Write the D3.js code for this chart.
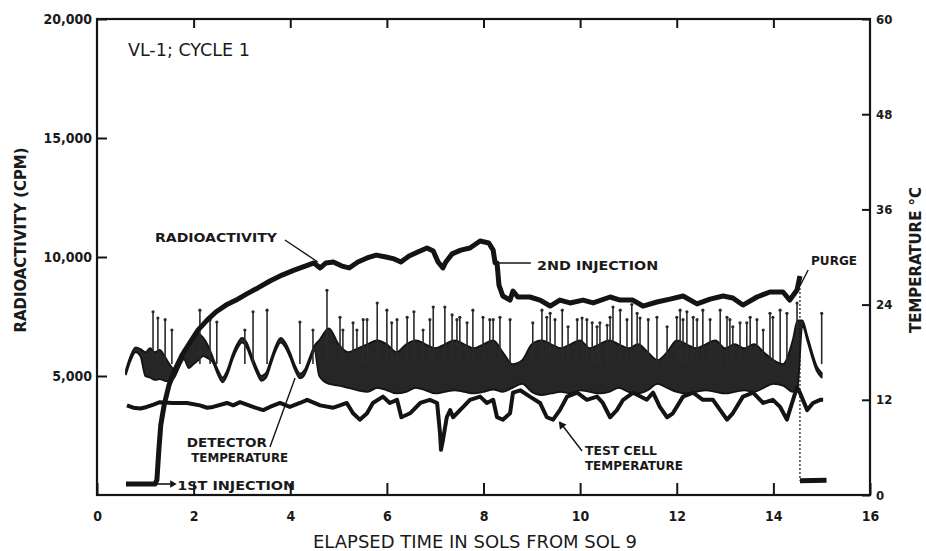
<!DOCTYPE html>
<html><head><meta charset="utf-8">
<script src="https://cdn.jsdelivr.net/npm/d3@7"></script>
<style>
body{margin:0;background:#fff}
svg{display:block}
text{font-family:"DejaVu Sans Condensed","DejaVu Sans",sans-serif;fill:#1a1a1a}
</style>
</head><body>
<svg id="c" width="926" height="551"></svg>
<script>
// ---------------- DATA ----------------
const xTicks = [0, 2, 4, 6, 8, 10, 12, 14, 16];
const leftTicks = [5000, 10000, 15000, 20000];
const rightTicks = [0, 12, 24, 36, 48, 60];

// Radioactivity (CPM) before purge
const radSols = [0.60,1.20,1.24,1.28,1.32,1.39,1.49,1.61,1.76,1.93,2.09,2.28,2.46,2.67,2.88,3.10,3.33,3.58,3.83,4.08,4.31,4.49,4.62,4.74,4.89,5.07,5.22,5.40,5.59,5.78,5.98,6.15,6.29,6.46,6.64,6.83,6.96,7.06,7.16,7.22,7.35,7.53,7.72,7.93,8.11,8.20,8.24,8.28,8.32,8.40,8.55,8.61,8.71,8.96,9.17,9.38,9.58,9.79,10.06,10.27,10.62,10.83,11.09,11.30,11.59,11.86,12.13,12.42,12.69,12.96,13.16,13.37,13.66,13.93,14.20,14.34,14.49,14.55];
const radCpm  = [460,460,630,1890,2940,3780,4620,5250,5880,6430,6930,7350,7690,7980,8190,8450,8700,8990,9240,9450,9620,9750,9540,9750,9790,9620,9540,9790,9960,10080,10000,9920,9790,10040,10210,10380,10250,9790,9540,9790,10130,10290,10380,10670,10590,10290,9750,9750,8820,8360,8190,8570,8320,8320,8190,7940,8190,8070,8190,8070,8320,8190,8190,7940,8110,8230,8360,8030,8230,8360,8280,7980,8320,8530,8530,8190,8610,9200];
// Radioactivity after purge
const radPostSols = [14.55, 15.10];
const radPostCpm  = [600, 620];

// Test cell temperature (deg C)
const cellSols = [0.62,0.75,0.90,1.03,1.17,1.30,1.57,1.86,2.13,2.28,2.40,2.69,2.82,2.96,3.23,3.44,3.58,3.79,3.99,4.20,4.35,4.62,4.89,5.03,5.17,5.30,5.44,5.59,5.71,5.92,6.06,6.21,6.30,6.48,6.69,6.89,7.04,7.10,7.12,7.16,7.24,7.31,7.37,7.58,7.72,7.93,8.07,8.20,8.28,8.40,8.55,8.61,8.76,8.96,9.17,9.31,9.44,9.58,9.73,9.94,10.14,10.35,10.47,10.62,10.76,10.89,11.10,11.38,11.51,11.65,11.80,11.92,12.13,12.34,12.54,12.75,12.90,13.04,13.16,13.37,13.58,13.79,13.99,14.14,14.28,14.34,14.49,14.55,14.70,14.82,14.97,15.03];
const cellTemp = [11.3,11.0,10.9,11.1,11.4,11.7,11.6,11.6,11.3,11.0,11.1,11.6,11.3,11.7,11.1,10.7,11.1,11.6,11.1,11.6,12.0,11.3,11.0,11.3,11.6,10.3,9.5,10.3,11.6,12.4,11.6,12.0,9.8,10.3,11.6,12.0,11.6,7.8,5.7,6.9,9.8,10.7,9.8,11.1,12.0,12.4,11.6,12.0,9.8,9.5,10.3,12.9,13.2,12.4,11.6,9.8,9.5,10.7,12.4,12.9,12.0,12.4,11.6,9.8,10.7,12.0,12.9,12.0,12.9,11.1,9.8,10.3,12.4,12.9,12.0,12.0,10.7,9.5,10.3,12.4,12.9,11.6,12.0,11.1,9.5,10.7,13.6,12.9,10.7,11.6,12.0,12.0];

// Detector temperature (deg C): band low / high
const detSols = [0.6,0.7,0.8,0.9,1.0,1.1,1.2,1.3,1.4,1.5,1.6,1.7,1.8,1.9,2.0,2.1,2.2,2.3,2.4,2.5,2.6,2.7,2.8,2.9,3.0,3.1,3.2,3.3,3.4,3.5,3.6,3.7,3.8,3.9,4.0,4.1,4.2,4.3,4.4,4.5,4.6,4.8,5.0,5.2,5.4,5.6,5.8,6.0,6.2,6.4,6.6,6.8,7.0,7.2,7.4,7.6,7.8,8.0,8.2,8.4,8.6,8.8,9.0,9.2,9.4,9.6,9.8,10.0,10.2,10.4,10.6,10.8,11.0,11.2,11.4,11.6,11.8,12.0,12.2,12.4,12.6,12.8,13.0,13.2,13.4,13.6,13.8,14.0,14.2,14.4,14.5,14.6,14.7,14.8,14.9,15.0];
const detLo = [15.2,17.0,18.0,17.5,15.0,14.8,14.5,14.6,14.4,14.3,14.8,16.1,17.1,16.0,16.5,17.0,17.5,17.2,16.7,15.2,14.2,15.2,17.0,18.4,19.2,18.6,17.0,15.5,14.4,14.8,16.5,18.2,19.2,18.6,17.3,15.7,14.7,15.2,16.7,18.2,15.0,14.0,13.8,13.5,13.2,13.0,13.5,13.2,12.8,13.0,13.5,13.2,12.8,13.0,13.2,13.0,12.8,13.0,13.3,13.0,13.5,14.0,13.0,12.6,12.8,13.0,12.8,13.2,13.0,12.8,13.0,13.5,13.0,12.8,13.2,14.0,13.5,13.0,12.8,13.0,13.2,13.0,12.8,13.0,13.2,13.0,13.5,14.0,13.8,13.0,13.5,21.4,19.5,17.4,15.6,14.8];
const detHi = [15.8,17.6,18.6,18.4,18.0,18.5,18.0,18.3,17.5,16.5,15.8,16.7,17.7,19.0,19.8,20.3,19.8,18.8,17.3,15.8,14.8,15.8,17.6,19.0,19.8,19.2,17.6,16.1,15.0,15.4,17.1,18.8,19.8,19.2,17.9,16.3,15.3,15.8,17.3,18.8,19.5,21.0,19.0,18.0,18.5,19.0,19.5,19.0,18.0,19.0,19.5,19.0,18.5,19.0,19.5,19.0,18.5,19.0,19.5,18.0,16.5,17.0,19.0,19.5,19.0,18.5,19.0,19.5,18.5,19.0,19.5,19.0,18.5,19.0,18.0,17.0,18.0,19.5,19.0,18.5,19.0,19.5,18.5,19.0,18.5,19.0,18.0,17.0,16.5,19.5,22.0,22.0,20.1,18.0,16.2,15.4];
// Detector temperature spikes (sol, peak deg C)
const spikeSols = [1.16,1.26,1.41,1.55,2.13,2.34,2.48,3.06,3.23,3.52,4.20,4.47,4.76,5.03,5.09,5.30,5.38,5.51,5.59,5.80,6.00,6.10,6.21,6.42,6.56,6.75,6.89,6.96,7.20,7.35,7.45,7.51,7.66,7.78,7.99,8.13,8.20,8.34,8.55,9.02,9.21,9.31,9.38,9.48,9.63,9.75,9.94,10.04,10.14,10.25,10.35,10.41,10.56,10.62,10.68,10.83,10.97,11.07,11.18,11.24,11.41,11.59,11.80,12.00,12.07,12.13,12.21,12.34,12.42,12.54,12.69,12.90,13.04,13.10,13.16,13.31,13.45,13.52,13.66,13.79,13.93,13.99,14.14,14.28,14.49,15.00];
const spikeTemp = [23.1,22.3,22.1,20.8,23.3,22.1,21.8,20.8,23.1,23.3,21.8,20.8,25.8,22.4,20.8,21.7,20.8,22.1,22.1,24.2,23.3,21.7,22.1,22.4,23.1,20.8,22.1,23.7,23.7,22.7,22.1,22.4,21.7,23.3,22.4,22.1,22.1,22.4,22.1,21.7,23.3,22.4,22.9,22.1,23.3,21.2,22.1,22.3,22.1,21.7,21.2,21.7,21.4,22.4,23.7,23.3,22.1,24.0,22.9,22.3,22.1,22.4,21.2,22.4,23.3,22.1,23.1,22.4,22.1,23.3,22.1,23.3,22.4,22.1,21.2,21.7,21.7,22.4,22.1,20.8,22.9,22.4,23.3,22.9,24.2,22.9];

// ---------------- CHART ----------------
const svg = d3.select("#c");
const ink = "#141414";
const x  = d3.scaleLinear().domain([0, 16]).range([97, 870]);
const yL = d3.scaleLinear().domain([0, 20000]).range([495, 19]);
const yR = d3.scaleLinear().domain([0, 60]).range([495, 19]);

// detector band
const det = detSols.map((s, i) => ({s, lo: detLo[i], hi: detHi[i]}));
svg.append("path").datum(det)
  .attr("d", d3.area().x(d => x(d.s)).y0(d => yR(d.lo)).y1(d => yR(d.hi)).curve(d3.curveMonotoneX))
  .attr("fill", "#262626").attr("stroke", ink).attr("stroke-width", 1.8).attr("stroke-linejoin", "round");

// spikes
const spikes = spikeSols.map((s, i) => ({s, t: spikeTemp[i]}));
svg.append("g").selectAll("line").data(spikes).join("line")
  .attr("x1", d => x(d.s)).attr("x2", d => x(d.s))
  .attr("y1", yR(16.5)).attr("y2", d => yR(d.t))
  .attr("stroke", "#2a2a2a").attr("stroke-width", 1.6);
svg.append("g").selectAll("circle").data(spikes).join("circle")
  .attr("cx", d => x(d.s)).attr("cy", d => yR(d.t)).attr("r", 1.6).attr("fill", "#2a2a2a");

// test cell temperature
const cell = cellSols.map((s, i) => ({s, t: cellTemp[i]}));
svg.append("path").datum(cell)
  .attr("d", d3.line().x(d => x(d.s)).y(d => yR(d.t)))
  .attr("fill", "none").attr("stroke", ink).attr("stroke-width", 4).attr("stroke-linejoin", "round");

// radioactivity
const rad = radSols.map((s, i) => ({s, c: radCpm[i]}));
svg.append("path").datum(rad)
  .attr("d", d3.line().x(d => x(d.s)).y(d => yL(d.c)))
  .attr("fill", "none").attr("stroke", ink).attr("stroke-width", 5).attr("stroke-linejoin", "round");
const radPost = radPostSols.map((s, i) => ({s, c: radPostCpm[i]}));
svg.append("path").datum(radPost)
  .attr("d", d3.line().x(d => x(d.s)).y(d => yL(d.c)))
  .attr("fill", "none").attr("stroke", ink).attr("stroke-width", 5);
// purge drop (dotted)
svg.append("line")
  .attr("x1", x(radSols[radSols.length-1])).attr("x2", x(radPostSols[0]))
  .attr("y1", yL(radCpm[radCpm.length-1])).attr("y2", yL(radPostCpm[0]))
  .attr("stroke", ink).attr("stroke-width", 1.2).attr("stroke-dasharray", "2,2");

// ---------------- AXES ----------------
const axisStyle = g => {
  g.select(".domain").remove();
  g.selectAll(".tick line").attr("stroke", ink).attr("stroke-width", 2);
  g.selectAll(".tick text").attr("font-weight", "bold").attr("fill", "#1a1a1a")
    .attr("font-family", "'DejaVu Sans Condensed','DejaVu Sans',sans-serif");
};
svg.append("g").attr("transform", "translate(97,0)")
  .call(d3.axisLeft(yL).tickValues(leftTicks).tickFormat(d3.format(",")).tickSizeInner(-10).tickSizeOuter(0).tickPadding(5))
  .call(axisStyle).call(g => g.selectAll(".tick text").attr("font-size", 14));
svg.append("g").attr("transform", "translate(870,0)")
  .call(d3.axisRight(yR).tickValues(rightTicks).tickSizeInner(-8).tickSizeOuter(0).tickPadding(6))
  .call(axisStyle).call(g => g.selectAll(".tick text").attr("font-size", 13));
svg.append("g").attr("transform", "translate(0,495)")
  .call(d3.axisBottom(x).tickValues(xTicks).tickSizeInner(-12).tickSizeOuter(0).tickPadding(16))
  .call(axisStyle).call(g => g.selectAll(".tick text").attr("font-size", 14));
svg.append("g").attr("transform", "translate(0,19)")
  .call(d3.axisTop(x).tickValues(xTicks.slice(1, -1)).tickFormat("").tickSizeInner(-9).tickSizeOuter(0))
  .call(axisStyle);
// frame
svg.append("rect").attr("x", x(0)).attr("y", yL(20000))
  .attr("width", x(16) - x(0)).attr("height", yL(0) - yL(20000))
  .attr("fill", "none").attr("stroke", ink).attr("stroke-width", 2.2);

// axis titles
svg.append("text").attr("x", 475).attr("y", 548).attr("text-anchor", "middle")
  .attr("font-size", 17).attr("textLength", 324).attr("lengthAdjust", "spacingAndGlyphs")
  .text("ELAPSED TIME IN SOLS FROM SOL 9");
svg.append("text").attr("transform", "translate(26,240) rotate(-90)").attr("text-anchor", "middle")
  .attr("font-size", 15).attr("font-weight", "bold").attr("textLength", 185).attr("lengthAdjust", "spacingAndGlyphs")
  .text("RADIOACTIVITY (CPM)");
svg.append("text").attr("transform", "translate(921,260) rotate(-90)").attr("text-anchor", "middle")
  .attr("font-size", 15).attr("font-weight", "bold").attr("textLength", 146).attr("lengthAdjust", "spacingAndGlyphs")
  .text("TEMPERATURE °C");

// ---------------- ANNOTATIONS ----------------
const lab = (s, c, txt, size, len, weight) => svg.append("text")
  .attr("x", x(s)).attr("y", yL(c)).attr("font-size", size).attr("font-weight", weight || "bold")
  .attr("textLength", len).attr("lengthAdjust", "spacingAndGlyphs").text(txt);
const seg = (s1, c1, s2, c2, w) => svg.append("line")
  .attr("x1", x(s1)).attr("y1", yL(c1)).attr("x2", x(s2)).attr("y2", yL(c2))
  .attr("stroke", ink).attr("stroke-width", w || 1.4);

lab(0.64, 18445, "VL-1; CYCLE 1", 18, 122, "normal");
lab(1.20, 10630, "RADIOACTIVITY", 12, 122);
seg(3.89, 10714, 4.57, 9790);
lab(9.11, 9454, "2ND INJECTION", 13, 121);
seg(8.20, 9748, 8.98, 9748, 1.6);
lab(14.78, 9664, "PURGE", 12, 46);
seg(14.72, 9454, 14.55, 8782);
lab(1.86, 2017, "DETECTOR", 12, 80);
lab(1.95, 1387, "TEMPERATURE", 12, 97);
seg(3.58, 2017, 4.10, 4916);
lab(10.10, 1681, "TEST CELL", 12, 72);
lab(10.10, 1050, "TEMPERATURE", 12, 98);
seg(10.04, 1849, 9.58, 3067);
svg.append("path").attr("d", d3.symbol(d3.symbolTriangle, 30)())
  .attr("transform", `translate(${x(9.62)},${yL(2930)}) rotate(-38)`).attr("fill", ink);
lab(1.66, 210, "1ST INJECTION", 13, 118);
seg(1.2, 462, 1.52, 462, 1.6);
svg.append("path").attr("d", d3.symbol(d3.symbolTriangle, 24)())
  .attr("transform", `translate(${x(1.56)},${yL(462)}) rotate(90)`).attr("fill", ink);
</script>
</body></html>
